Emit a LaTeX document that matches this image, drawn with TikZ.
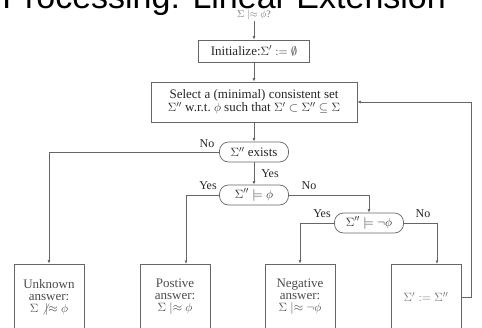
\documentclass[tikz,border=0pt]{standalone}
\usepackage{fontspec}
\setmainfont{Liberation Serif}
\newfontfamily\titlefont{Liberation Sans}
\usetikzlibrary{arrows.meta,calc}
\newcommand{\nment}{\mathrel{|\mkern-5mu\approx}}
\newcommand{\nnment}{\mathrel{\not|\mkern-5mu\approx}}
\begin{document}
\begin{tikzpicture}[x=1pt,y=-1pt,line width=0.7pt,
  ln/.style={draw=black!60},
  arr/.style={ln,-{Latex[length=3.5pt,width=3pt]}},
  box/.style={draw=black!60,fill=white,inner sep=0pt,text=black!85,
    font=\fontsize{13}{13}\selectfont,align=center},
  cond/.style={box,rounded corners=9pt,minimum width=69pt,minimum height=20pt},
  fin/.style={box,text=black!70,minimum width=70pt,minimum height=66pt,
    font=\fontsize{13}{12}\selectfont},
  lab/.style={text=black!85,font=\fontsize{12}{12}\selectfont,inner sep=0pt}]
\useasboundingbox (0,0) rectangle (482,327);
\clip (0,0) rectangle (482,327);
\node[anchor=base west,font=\titlefont\fontsize{34}{34}\selectfont,inner sep=0pt] (title) at (2,8) {Processing: Linear Extension};
\node[text=black!55,font=\fontsize{10}{10}\selectfont,inner sep=1pt] (q) at (254,15) {$\Sigma \nment \phi$?};
\node[box,minimum width=111pt,minimum height=22pt] (init) at (254,51) {Initialize:$\Sigma' := \emptyset$};
\node[box,minimum width=206pt,minimum height=40pt] (sel) at (254,102) {Select a (minimal) consistent set\\ $\Sigma''$ w.r.t.\ $\phi$ such that $\Sigma' \subset \Sigma'' \subseteq \Sigma$};
\node[cond] (ex) at (254,152) {$\Sigma''$ exists};
\node[cond] (m1) at (254,195) {$\Sigma'' \models \phi$};
\node[cond] (m2) at (369,223) {$\Sigma'' \models \neg\phi$};
\node[fin] (b1) at (49,297) {Unknown\\answer:\\$\Sigma \nnment \phi$};
\node[fin] (b2) at (175,297) {Postive\\answer:\\$\Sigma \nment \phi$};
\node[fin] (b3) at (300,297) {Negative\\answer:\\$\Sigma \nment \neg\phi$};
\node[fin,text=black!55] (b4) at (426,297) {$\Sigma' := \Sigma''$};
\coordinate (c2) at (186,264);
\coordinate (c4) at (437,264);
\draw[arr] (q.south) -- (init.north);
\draw[arr] (init.south) -- (sel.north);
\draw[arr] (sel.south) -- (ex.north);
\draw[arr] (ex.west) -| (b1.north);
\draw[arr] (ex.south) -- (m1.north);
\draw[arr] (m1.west) -| (c2);
\draw[arr] (m1.east) -| (m2.north);
\draw[arr] (m2.west) -| (b3.north);
\draw[arr] (m2.east) -| (c4);
\draw[arr] (b4.east) -- ++(10,0) |- (sel.east);
\node[lab] (l1) at (207,144) {No};
\node[lab] (l2) at (270,174) {Yes};
\node[lab] (l3) at (208,186) {Yes};
\node[lab] (l4) at (309,186) {No};
\node[lab] (l5) at (322,214) {Yes};
\node[lab] (l6) at (423,214) {No};
\end{tikzpicture}
\end{document}
